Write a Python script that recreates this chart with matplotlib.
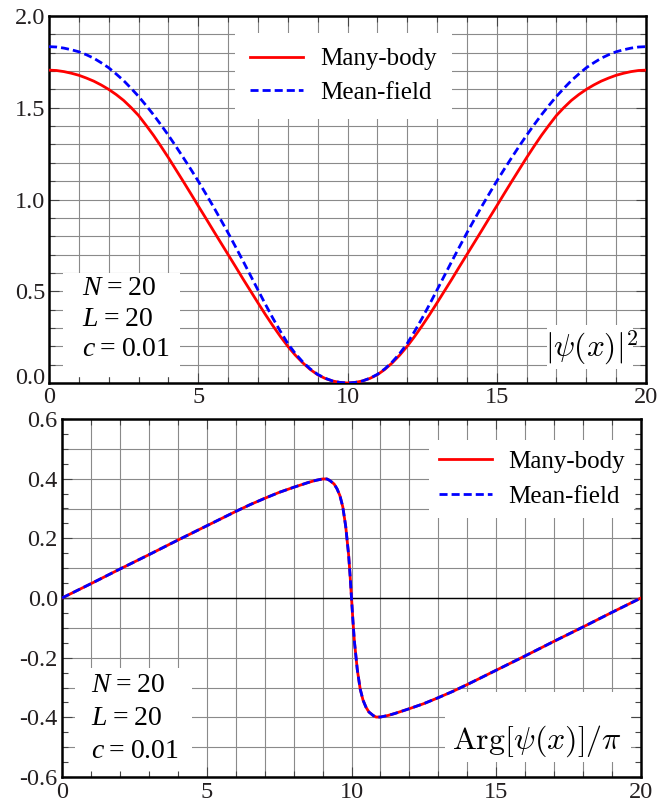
import numpy as np
import matplotlib
matplotlib.use("Agg")
import matplotlib.pyplot as plt
import matplotlib.transforms as mtransforms
from matplotlib.patches import Rectangle

plt.rcParams['font.family'] = ['Liberation Serif', 'DejaVu Serif']
plt.rcParams['mathtext.fontset'] = 'cm'
plt.rcParams['mathtext.rm'] = 'Liberation Serif'
plt.rcParams['mathtext.it'] = 'Liberation Serif:italic'
plt.rcParams['axes.unicode_minus'] = False

# density |psi(x)|^2, sampled every 0.25
x_dens = [0, 0.25, 0.5, 0.75, 1, 1.25, 1.5, 1.75, 2, 2.25, 2.5, 2.75, 3, 3.25, 3.5, 3.75,
          4, 4.25, 4.5, 4.75, 5, 5.25, 5.5, 5.75, 6, 6.25, 6.5, 6.75, 7, 7.25, 7.5, 7.75,
          8, 8.25, 8.5, 8.75, 9, 9.25, 9.5, 9.75, 10,
          10.25, 10.5, 10.75, 11, 11.25, 11.5, 11.75, 12, 12.25, 12.5, 12.75, 13, 13.25,
          13.5, 13.75, 14, 14.25, 14.5, 14.75, 15, 15.25, 15.5, 15.75, 16, 16.25, 16.5,
          16.75, 17, 17.25, 17.5, 17.75, 18, 18.25, 18.5, 18.75, 19, 19.25, 19.5, 19.75, 20]
dens_mb = [1.705, 1.703, 1.697, 1.688, 1.677, 1.662, 1.645, 1.624, 1.600, 1.572, 1.540,
           1.501, 1.458, 1.405, 1.350, 1.290, 1.228, 1.163, 1.098, 1.032, 0.965, 0.899,
           0.832, 0.766, 0.700, 0.634, 0.567, 0.502, 0.437, 0.373, 0.312, 0.254, 0.200,
           0.152, 0.110, 0.074, 0.045, 0.025, 0.011, 0.003, 0.000,
           0.003, 0.011, 0.025, 0.045, 0.074, 0.110, 0.152, 0.200, 0.254, 0.312, 0.373,
           0.437, 0.502, 0.567, 0.634, 0.700, 0.766, 0.832, 0.899, 0.965, 1.032, 1.098,
           1.163, 1.228, 1.290, 1.350, 1.405, 1.458, 1.501, 1.540, 1.572, 1.600, 1.624,
           1.645, 1.662, 1.677, 1.688, 1.697, 1.703, 1.705]
dens_mf = [1.833, 1.831, 1.825, 1.816, 1.805, 1.789, 1.770, 1.745, 1.718, 1.684, 1.648,
           1.606, 1.562, 1.513, 1.462, 1.407, 1.350, 1.290, 1.228, 1.165, 1.100, 1.032,
           0.963, 0.891, 0.818, 0.742, 0.665, 0.586, 0.507, 0.429, 0.353, 0.282, 0.215,
           0.161, 0.115, 0.077, 0.047, 0.026, 0.011, 0.003, 0.000,
           0.003, 0.011, 0.026, 0.047, 0.077, 0.115, 0.161, 0.215, 0.282, 0.353, 0.429,
           0.507, 0.586, 0.665, 0.742, 0.818, 0.891, 0.963, 1.032, 1.100, 1.165, 1.228,
           1.290, 1.350, 1.407, 1.462, 1.513, 1.562, 1.606, 1.648, 1.684, 1.718, 1.745,
           1.770, 1.789, 1.805, 1.816, 1.825, 1.831, 1.833]

# phase Arg[psi(x)]/pi
x_phase = [0, 1, 2, 3, 4, 5, 5.5, 6, 6.5, 7, 7.5, 8, 8.5, 8.75, 9, 9.15, 9.25, 9.4, 9.5,
           9.6, 9.7, 9.8, 9.9, 9.95, 10,
           10.05, 10.1, 10.2, 10.3, 10.4, 10.5, 10.6, 10.75, 10.85, 11, 11.25, 11.5, 12,
           12.5, 13, 13.5, 14, 14.5, 15, 16, 17, 18, 19, 20]
phase_mb = [0.0, 0.048, 0.097, 0.145, 0.194, 0.242, 0.266, 0.290, 0.313, 0.334, 0.354,
            0.371, 0.387, 0.394, 0.399, 0.399, 0.394, 0.382, 0.366, 0.343, 0.305, 0.240,
            0.145, 0.077, 0.0,
            -0.077, -0.145, -0.240, -0.305, -0.343, -0.366, -0.382, -0.394, -0.399,
            -0.399, -0.394, -0.387, -0.371, -0.354, -0.334, -0.313, -0.290, -0.266,
            -0.242, -0.194, -0.145, -0.097, -0.048, 0.0]
phase_mf = list(phase_mb)  # the two curves coincide at this scale

x_ticks = [0, 5, 10, 15, 20]
top_yticks = [0.0, 0.5, 1.0, 1.5, 2.0]
top_ylabels = ['0.0', '0.5', '1.0', '1.5', '2.0']
bot_yticks = [-0.6, -0.4, -0.2, 0.0, 0.2, 0.4, 0.6]
bot_ylabels = ['-0.6', '-0.4', '-0.2', '0.0', '0.2', '0.4', '0.6']
params = [r'$N$' + '\u2009=\u200920', r'$L$' + '\u2009=\u200920', r'$c$' + '\u2009=\u20090.01']

grid_col = '#8a8a8a'
W, H = 671, 808

fig = plt.figure(figsize=(W / 100, H / 100), dpi=100)
ax1 = fig.add_axes([49 / W, 1 - 383 / H, 597 / W, 367 / H])
ax2 = fig.add_axes([62 / W, 1 - 777 / H, 579 / W, 358 / H])


def style(ax, ylim, yticks, ylabels, yminor, xpad, ypad):
    ax.set_xlim(0, 20)
    ax.set_ylim(*ylim)
    ax.set_xticks(x_ticks)
    ax.set_xticklabels([str(t) for t in x_ticks])
    ax.set_xticks(np.arange(0, 21, 1), minor=True)
    ax.set_yticks(yticks)
    ax.set_yticklabels(ylabels)
    ax.set_yticks(yminor, minor=True)
    for g in range(1, 20):
        ax.axvline(g, color=grid_col, lw=0.8, zorder=0.5)
    for g in np.arange(ylim[0], ylim[1] + 1e-9, 0.1):
        ax.axhline(g, color=grid_col, lw=0.8, zorder=0.5)
    for s in ax.spines.values():
        s.set_linewidth(1.8)
        s.set_color('black')
    ax.tick_params(which='both', direction='in', top=True, right=True,
                   labelsize=17.5, labelcolor='#231f20', color='#444444')
    ax.tick_params(which='major', length=7, width=0.8)
    ax.tick_params(which='minor', length=4, width=0.8)
    ax.tick_params(axis='x', pad=xpad)
    ax.tick_params(axis='y', pad=ypad)


style(ax1, (0, 2), top_yticks, top_ylabels, np.arange(0, 2.01, 0.1), 3.2, 2.5)
style(ax2, (-0.6, 0.6), bot_yticks, bot_ylabels, np.arange(-0.6, 0.61, 0.05), 3.5, 3.0)
ax2.axhline(0, color='black', lw=1.0, zorder=1)

# lift the bottom "0.0" of the top panel a little, as in the original
lab0 = ax1.get_yticklabels()[0]
lab0.set_transform(lab0.get_transform() +
                   mtransforms.ScaledTranslation(0, 5 / 72, fig.dpi_scale_trans))

# top panel
ax1.plot(x_dens, dens_mb, color='#ff0000', lw=2.0, zorder=3, label='Many-body')
ax1.plot(x_dens, dens_mf, color='#0000ff', lw=2.0, dashes=(2.9, 1.45), zorder=3,
         label='Mean-field')
leg1 = ax1.legend(loc='upper left', bbox_to_anchor=(0.3116, 0.9537), borderaxespad=0,
                  fontsize=18, handlelength=2.1, handletextpad=0.7, labelspacing=0.45,
                  borderpad=0.6, frameon=True, fancybox=False, framealpha=1,
                  facecolor='white', edgecolor='none')
leg1.set_zorder(5)

ax1.add_patch(Rectangle((0.0235, 0.016), 0.196, 0.284, transform=ax1.transAxes,
                        facecolor='white', edgecolor='none', zorder=1.5))
for i, s in enumerate(params):
    ax1.text(0.055, 0.258 - i * 0.084, s, transform=ax1.transAxes, fontsize=20,
             ha='left', va='center', math_fontfamily='custom', zorder=4)

ax1.add_patch(Rectangle((0.834, 0.038), 0.144, 0.120, transform=ax1.transAxes,
                        facecolor='white', edgecolor='none', zorder=1.5))
ax1.text(0.908, 0.096, r'$|\psi(x)|^2$', transform=ax1.transAxes, fontsize=22.5,
         ha='center', va='center', zorder=4)

# bottom panel
ax2.plot(x_phase, phase_mb, color='#ff0000', lw=2.0, zorder=3, label='Many-body')
ax2.plot(x_phase, phase_mf, color='#0000ff', lw=2.0, dashes=(2.9, 1.45), zorder=3.1,
         label='Mean-field')
leg2 = ax2.legend(loc='upper left', bbox_to_anchor=(0.634, 0.941), borderaxespad=0,
                  fontsize=18, handlelength=2.1, handletextpad=0.65, labelspacing=0.5,
                  borderpad=0.4, frameon=True, fancybox=False, framealpha=1,
                  facecolor='white', edgecolor='none')
leg2.set_zorder(5)

ax2.add_patch(Rectangle((0.022, 0.005), 0.202, 0.30, transform=ax2.transAxes,
                        facecolor='white', edgecolor='none', zorder=1.5))
for i, s in enumerate(params):
    ax2.text(0.050, 0.256 - i * 0.093, s, transform=ax2.transAxes, fontsize=20,
             ha='left', va='center', math_fontfamily='custom', zorder=4)

ax2.add_patch(Rectangle((0.662, 0.042), 0.320, 0.196, transform=ax2.transAxes,
                        facecolor='white', edgecolor='none', zorder=1.5))
ax2.text(0.820, 0.100, r'$\mathrm{Arg}[\psi(x)]/\pi$', transform=ax2.transAxes,
         fontsize=23, ha='center', va='center', zorder=4)

fig.savefig('out.png', dpi=100)
